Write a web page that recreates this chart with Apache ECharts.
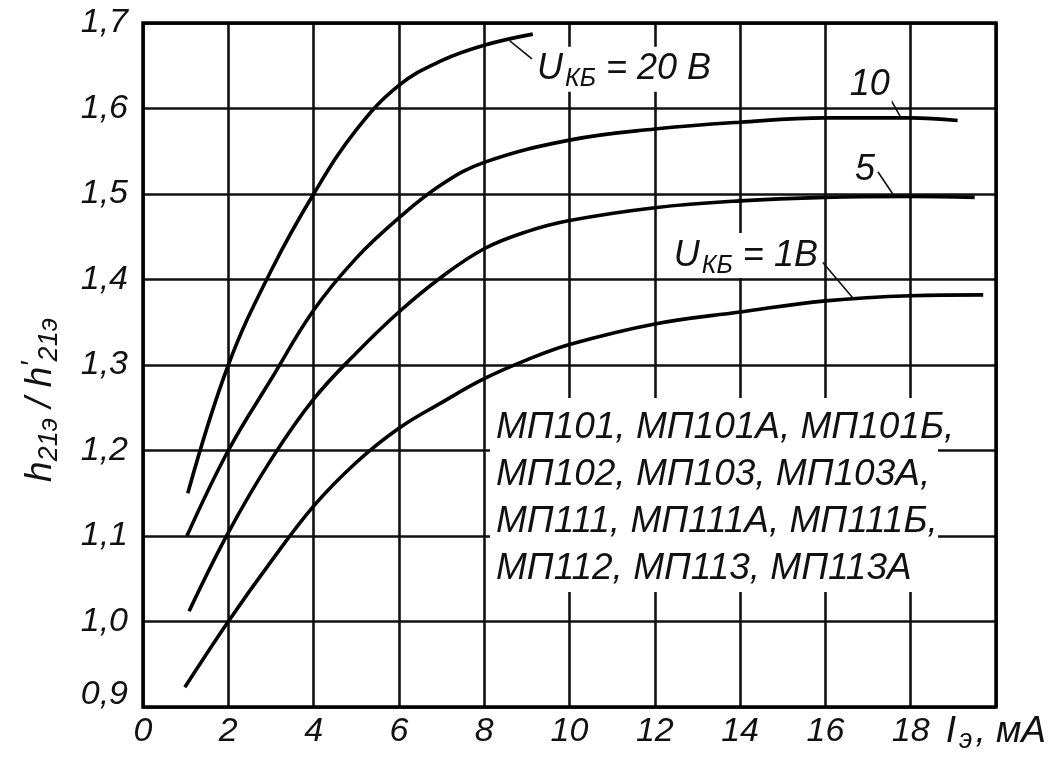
<!DOCTYPE html>
<html><head><meta charset="utf-8">
<script src="https://cdn.jsdelivr.net/npm/echarts@6/dist/echarts.min.js"></script>
<style>html,body{margin:0;padding:0;background:#fff}#c{width:1050px;height:760px}</style>
</head><body><div id="c"></div>
<script>
// ---- data ----
const curve20x = [1.05, 2, 3, 4, 5, 6, 7, 8, 9.14];
const curve20y = [1.15, 1.3, 1.41, 1.5, 1.575, 1.627, 1.656, 1.674, 1.687];

const curve10x = [1.03, 2, 3, 4, 5, 6, 7, 8, 10, 12, 14, 16, 18, 19.1];
const curve10y = [1.1, 1.2, 1.283, 1.364, 1.425, 1.472, 1.511, 1.537, 1.563, 1.576, 1.584, 1.589, 1.589, 1.586];

const curve5x = [1.08, 2, 3, 4, 5, 6, 7, 8, 9, 10, 12, 14, 16, 18, 19.5];
const curve5y = [1.012, 1.104, 1.189, 1.26, 1.314, 1.362, 1.403, 1.436, 1.456, 1.469, 1.484, 1.492, 1.496, 1.497, 1.496];

const curve1x = [0.98, 2, 3, 4, 5, 6, 7, 8, 9, 10, 12, 14, 16, 18, 19.7];
const curve1y = [0.923, 1.0, 1.07, 1.135, 1.186, 1.226, 1.256, 1.284, 1.306, 1.324, 1.348, 1.362, 1.375, 1.381, 1.382];

const xTickValues = [0, 2, 4, 6, 8, 10, 12, 14, 16, 18];
const xTickLabels = ['0', '2', '4', '6', '8', '10', '12', '14', '16', '18'];
const yTickValues = [0.9, 1.0, 1.1, 1.2, 1.3, 1.4, 1.5, 1.6, 1.7];
const yTickLabels = ['0,9', '1,0', '1,1', '1,2', '1,3', '1,4', '1,5', '1,6', '1,7'];

const curveLabels = ['20 В', '10', '5', '1В'];
const modelLines = [
  'МП101, МП101А, МП101Б,',
  'МП102, МП103, МП103А,',
  'МП111, МП111А, МП111Б,',
  'МП112, МП113, МП113А'
];

// ---- chart ----
const FONT = 'Liberation Sans';
const pairs = (xs, ys) => xs.map((x, i) => [x, ys[i]]);
const lbl = (arrV, arrL, v) => {
  for (let i = 0; i < arrV.length; i++) if (Math.abs(arrV[i] - v) < 1e-6) return arrL[i];
  return '';
};
const ukbRich = {
  u: { fontFamily: FONT, fontStyle: 'italic', fontSize: 36, color: '#111' },
  s: { fontFamily: FONT, fontStyle: 'italic', fontSize: 25, color: '#111', padding: [20, 0, 0, 2] }
};
const leader = (a, b) => [{ coord: a }, { coord: b }];
const mlCommon = { symbol: ['none', 'none'], silent: true, label: { show: false },
  lineStyle: { color: '#111', width: 1.6, type: 'solid' }, emphasis: { disabled: true } };
const textPoint = (coord, formatter, position) => ({
  coord, symbol: 'circle', symbolSize: 0,
  label: { show: true, position, distance: 0, formatter, rich: ukbRich,
    fontFamily: FONT, fontStyle: 'italic', fontSize: 36, color: '#111',
    backgroundColor: '#fff', padding: [0, 2, 0, 2] }
});

const lineSeries = (xs, ys, mp, ml) => ({
  type: 'line', data: pairs(xs, ys), smooth: 0.4,
  showSymbol: false, symbol: 'none', silent: true,
  lineStyle: { color: '#000', width: 3.6 },
  markPoint: { data: mp, silent: true, animation: false },
  markLine: Object.assign({ data: ml, animation: false }, mlCommon),
  z: 3
});

const chart = echarts.init(document.getElementById('c'), null, { renderer: 'canvas' });
chart.setOption({
  animation: false,
  backgroundColor: '#fff',
  grid: { left: 143, right: 54, top: 23, bottom: 53, show: true, borderColor: '#000', borderWidth: 3.5, z: 4 },
  xAxis: {
    type: 'value', min: 0, max: 20, interval: 2,
    axisLine: { show: false }, axisTick: { show: false },
    splitLine: { show: true, lineStyle: { color: '#111', width: 2.6 } },
    axisLabel: { margin: 8, fontFamily: FONT, fontStyle: 'italic', fontSize: 34, color: '#111',
      formatter: v => lbl(xTickValues, xTickLabels, v) },
    name: '{i|I}{s|э}{i|, мА}', nameLocation: 'end', nameGap: 50, nameMoveOverlap: false,
    nameTextStyle: { verticalAlign: 'top', align: 'right', padding: [2, 0, 0, 0],
      rich: {
        i: { fontFamily: FONT, fontStyle: 'italic', fontSize: 37, color: '#111' },
        s: { fontFamily: FONT, fontStyle: 'italic', fontSize: 27, color: '#111', padding: [18, 3, 0, 3] }
      } }
  },
  yAxis: {
    type: 'value', min: 0.9, max: 1.7, interval: 0.1,
    axisLine: { show: false }, axisTick: { show: false },
    splitLine: { show: true, lineStyle: { color: '#111', width: 2.6 } },
    axisLabel: { margin: 15, fontFamily: FONT, fontStyle: 'italic', fontSize: 34, color: '#111',
      formatter: v => { const t = lbl(yTickValues, yTickLabels, v); return Math.abs(v - 0.9) < 1e-6 ? '{lo|' + t + '}' : t; },
      rich: { lo: { fontFamily: FONT, fontStyle: 'italic', fontSize: 34, color: '#111', padding: [0, 0, 24, 0] } } },
    name: '{h|h}{s|21э}{h| / h}{p|′}{s|21э}', nameLocation: 'middle', nameRotate: 90, nameGap: 80,
    nameMoveOverlap: false,
    nameTextStyle: { padding: [0, 70, 0, 0],
      rich: {
        h: { fontFamily: FONT, fontStyle: 'italic', fontSize: 37, color: '#111' },
        s: { fontFamily: FONT, fontStyle: 'italic', fontSize: 27, color: '#111', padding: [18, 0, 0, 0] },
        p: { fontFamily: FONT, fontStyle: 'italic', fontSize: 28, color: '#111', padding: [0, 0, 16, 0] }
      } }
  },
  series: [
    lineSeries(curve20x, curve20y,
      [textPoint([9.19, 1.646], '{u|U}{s|КБ}{u| = ' + curveLabels[0] + '}', 'right')],
      [leader([8.6, 1.679], [9.12, 1.658])]),
    lineSeries(curve10x, curve10y,
      [textPoint([17.04, 1.628], curveLabels[1], 'inside')],
      [leader([17.47, 1.616], [17.75, 1.591])]),
    lineSeries(curve5x, curve5y,
      [textPoint([16.93, 1.528], curveLabels[2], 'inside')],
      [leader([17.23, 1.526], [17.58, 1.5])]),
    lineSeries(curve1x, curve1y,
      [textPoint([12.4, 1.428], '{u|U}{s|КБ}{u| = ' + curveLabels[3] + '}', 'right')],
      [leader([15.94, 1.42], [16.65, 1.378])])
  ],
  graphic: [
    { type: 'rect', z: 10, shape: { x: 490, y: 398, width: 448, height: 194 }, style: { fill: '#fff' } },
    { type: 'text', z: 11, x: 496, y: 404,
      style: { text: modelLines.join('\n'), font: 'italic 37px "Liberation Sans"', fill: '#111', lineHeight: 47, verticalAlign: 'top', align: 'left' } }
  ]
});
</script></body></html>
